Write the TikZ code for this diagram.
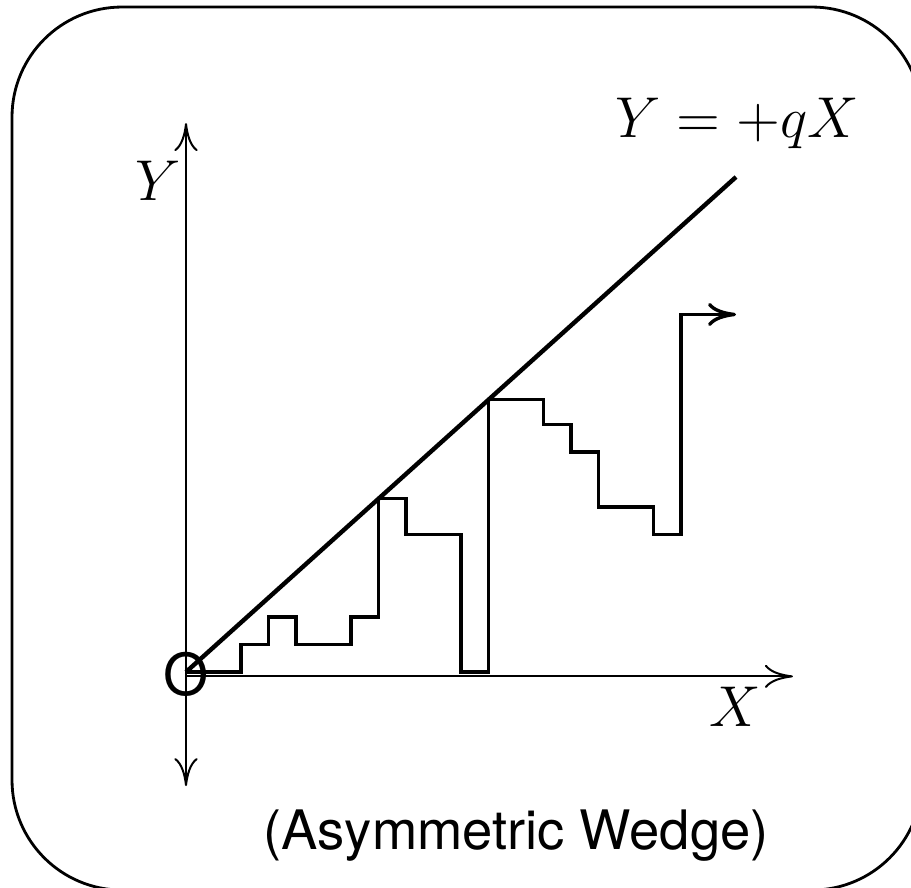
\documentclass[tikz,border=0pt]{standalone}
\usepackage{fontspec}
\newfontfamily\helv{TeX Gyre Heros}
\usetikzlibrary{arrows.meta}

\begin{document}
\begin{tikzpicture}[
  x=6.875pt, y=6.875pt,
  >={Computer Modern Rightarrow[length=7pt,width=5.8pt]},
  frame/.style={draw, line width=0.7pt, rounded corners=27.5pt},
  axis/.style={line width=0.5pt},
  wedge/.style={line width=1.1pt},
  walk/.style={line width=0.85pt, line join=miter},
  mathlbl/.style={inner sep=0pt, font=\fontsize{14}{17}\selectfont},
  sanslbl/.style={inner sep=0pt, font=\helv\fontsize{13.6}{16}\selectfont},
]
  \useasboundingbox (-6.764,-7.855) rectangle (26.364,24.436);

  % outer frame (runs off the page on the right and bottom)
  \draw[frame] (-6.327,-7.93) rectangle (26.76,24.18);

  % axes
  \coordinate (O) at (0,0);
  \coordinate (ytop) at (0,19.96);
  \coordinate (ybot) at (0,-4.15);
  \coordinate (xend) at (22.07,-0.16);
  \draw[axis, <->] (ybot) -- (ytop);
  \draw[axis, ->] (0,-0.16) -- (xend);

  % wedge boundary
  \coordinate (wend) at (20,18);
  \draw[wedge] (O) -- (wend);

  % staircase walk
  \draw[walk, ->] (O) -| (2,1) -| (3,2) -| (4,1) -| (6,2) -| (7,6.3)
    -| (8,5) -| (10,0) -| (11,9.9) -| (13,9) -| (14,8) -| (15,6)
    -| (17,5) -| (18,13) -- (20,13);

  % labels
  \node[mathlbl, anchor=base, font=\fontsize{13.4}{16}\selectfont] (lineq) at (20.05,19.45) {$Y=+qX$};
  \node[mathlbl, anchor=base] (ylab) at (-1.0,17.16) {$Y$};
  \node[mathlbl, anchor=base] (xlab) at (19.96,-2.0) {$X$};
  \node[sanslbl, font=\helv\fontsize{14.5}{16}\selectfont] (orig) at (0,-0.07) {O};
  \node[sanslbl, anchor=base] (caption) at (12.0,-6.47) {(Asymmetric Wedge)};
\end{tikzpicture}
\end{document}
